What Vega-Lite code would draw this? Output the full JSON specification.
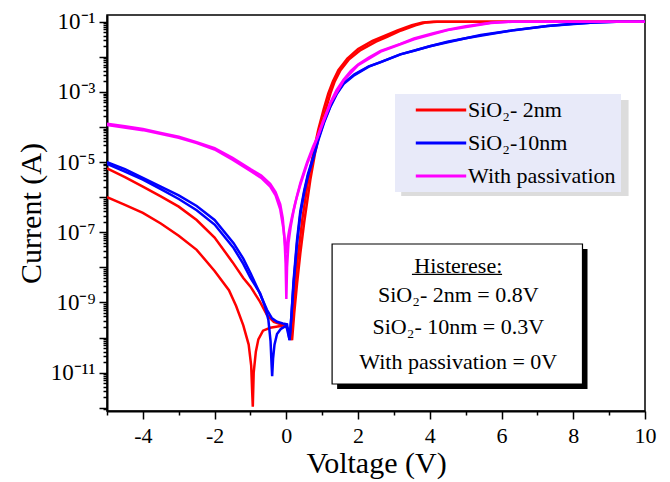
{
  "$schema": "https://vega.github.io/schema/vega-lite/v6.json",
  "width": 538,
  "height": 396,
  "autosize": {"type": "none"},
  "padding": {"left": 107, "top": 15, "right": 25, "bottom": 71},
  "background": "white",
  "config": {"view": {"stroke": "black", "strokeWidth": 1.5}, "text": {"font": "Liberation Serif"}},
  "datasets": {
    "curves": [
      {"s": "SiO₂- 2nm", "b": "r1", "v": -5, "i": 1.0e-6},
      {"s": "SiO₂- 2nm", "b": "r1", "v": -4.5, "i": 6.03e-7},
      {"s": "SiO₂- 2nm", "b": "r1", "v": -4, "i": 3.55e-7},
      {"s": "SiO₂- 2nm", "b": "r1", "v": -3.5, "i": 1.78e-7},
      {"s": "SiO₂- 2nm", "b": "r1", "v": -3, "i": 7.94e-8},
      {"s": "SiO₂- 2nm", "b": "r1", "v": -2.5, "i": 3.16e-8},
      {"s": "SiO₂- 2nm", "b": "r1", "v": -2, "i": 7.94e-9},
      {"s": "SiO₂- 2nm", "b": "r1", "v": -1.6, "i": 2.24e-9},
      {"s": "SiO₂- 2nm", "b": "r1", "v": -1.4, "i": 7.94e-10},
      {"s": "SiO₂- 2nm", "b": "r1", "v": -1.2, "i": 2.24e-10},
      {"s": "SiO₂- 2nm", "b": "r1", "v": -1.05, "i": 6.31e-11},
      {"s": "SiO₂- 2nm", "b": "r1", "v": -0.98, "i": 1.58e-11},
      {"s": "SiO₂- 2nm", "b": "r1", "v": -0.95, "i": 2.51e-12},
      {"s": "SiO₂- 2nm", "b": "r1", "v": -0.935, "i": 1.07e-12},
      {"s": "SiO₂- 2nm", "b": "r1", "v": -0.91, "i": 1.0e-11},
      {"s": "SiO₂- 2nm", "b": "r1", "v": -0.85, "i": 3.98e-11},
      {"s": "SiO₂- 2nm", "b": "r1", "v": -0.78, "i": 8.91e-11},
      {"s": "SiO₂- 2nm", "b": "r1", "v": -0.65, "i": 1.58e-10},
      {"s": "SiO₂- 2nm", "b": "r1", "v": -0.45, "i": 1.91e-10},
      {"s": "SiO₂- 2nm", "b": "r1", "v": -0.2, "i": 2.09e-10},
      {"s": "SiO₂- 2nm", "b": "r1", "v": -0.05, "i": 2.29e-10},
      {"s": "SiO₂- 2nm", "b": "r1", "v": 0.08, "i": 1.58e-10},
      {"s": "SiO₂- 2nm", "b": "r1", "v": 0.16, "i": 8.51e-11},
      {"s": "SiO₂- 2nm", "b": "r1", "v": 0.22, "i": 5.01e-10},
      {"s": "SiO₂- 2nm", "b": "r1", "v": 0.3, "i": 3.55e-9},
      {"s": "SiO₂- 2nm", "b": "r1", "v": 0.39, "i": 2.51e-8},
      {"s": "SiO₂- 2nm", "b": "r1", "v": 0.5, "i": 2.0e-7},
      {"s": "SiO₂- 2nm", "b": "r1", "v": 0.67, "i": 3.16e-6},
      {"s": "SiO₂- 2nm", "b": "r1", "v": 0.8, "i": 1.78e-5},
      {"s": "SiO₂- 2nm", "b": "r1", "v": 0.95, "i": 8.32e-5},
      {"s": "SiO₂- 2nm", "b": "r1", "v": 1.1, "i": 3.16e-4},
      {"s": "SiO₂- 2nm", "b": "r1", "v": 1.23, "i": 9.12e-4},
      {"s": "SiO₂- 2nm", "b": "r1", "v": 1.35, "i": 2.0e-3},
      {"s": "SiO₂- 2nm", "b": "r1", "v": 1.51, "i": 4.17e-3},
      {"s": "SiO₂- 2nm", "b": "r1", "v": 1.75, "i": 8.51e-3},
      {"s": "SiO₂- 2nm", "b": "r1", "v": 2.07, "i": 1.55e-2},
      {"s": "SiO₂- 2nm", "b": "r1", "v": 2.5, "i": 2.69e-2},
      {"s": "SiO₂- 2nm", "b": "r1", "v": 2.81, "i": 3.72e-2},
      {"s": "SiO₂- 2nm", "b": "r1", "v": 3.2, "i": 5.62e-2},
      {"s": "SiO₂- 2nm", "b": "r1", "v": 3.6, "i": 7.94e-2},
      {"s": "SiO₂- 2nm", "b": "r1", "v": 3.9, "i": 9.55e-2},
      {"s": "SiO₂- 2nm", "b": "r1", "v": 4.2, "i": 0.1},
      {"s": "SiO₂- 2nm", "b": "r1", "v": 10, "i": 0.1},

      {"s": "SiO₂- 2nm", "b": "r2", "v": -5, "i": 6.61e-6},
      {"s": "SiO₂- 2nm", "b": "r2", "v": -4.5, "i": 3.72e-6},
      {"s": "SiO₂- 2nm", "b": "r2", "v": -4, "i": 2.0e-6},
      {"s": "SiO₂- 2nm", "b": "r2", "v": -3.5, "i": 1.05e-6},
      {"s": "SiO₂- 2nm", "b": "r2", "v": -3, "i": 5.37e-7},
      {"s": "SiO₂- 2nm", "b": "r2", "v": -2.5, "i": 2.24e-7},
      {"s": "SiO₂- 2nm", "b": "r2", "v": -2, "i": 7.08e-8},
      {"s": "SiO₂- 2nm", "b": "r2", "v": -1.5, "i": 1.41e-8},
      {"s": "SiO₂- 2nm", "b": "r2", "v": -1.2, "i": 5.01e-9},
      {"s": "SiO₂- 2nm", "b": "r2", "v": -1.0, "i": 2.82e-9},
      {"s": "SiO₂- 2nm", "b": "r2", "v": -0.75, "i": 1.12e-9},
      {"s": "SiO₂- 2nm", "b": "r2", "v": -0.54, "i": 4.37e-10},
      {"s": "SiO₂- 2nm", "b": "r2", "v": -0.35, "i": 2.82e-10},
      {"s": "SiO₂- 2nm", "b": "r2", "v": -0.15, "i": 2.40e-10},
      {"s": "SiO₂- 2nm", "b": "r2", "v": 0.0, "i": 2.19e-10},
      {"s": "SiO₂- 2nm", "b": "r2", "v": 0.08, "i": 1.41e-10},
      {"s": "SiO₂- 2nm", "b": "r2", "v": 0.13, "i": 8.91e-11},
      {"s": "SiO₂- 2nm", "b": "r2", "v": 0.2, "i": 1.0e-9},
      {"s": "SiO₂- 2nm", "b": "r2", "v": 0.3, "i": 1.26e-8},
      {"s": "SiO₂- 2nm", "b": "r2", "v": 0.45, "i": 2.51e-7},
      {"s": "SiO₂- 2nm", "b": "r2", "v": 0.61, "i": 3.16e-6},
      {"s": "SiO₂- 2nm", "b": "r2", "v": 0.75, "i": 1.78e-5},
      {"s": "SiO₂- 2nm", "b": "r2", "v": 0.89, "i": 8.32e-5},
      {"s": "SiO₂- 2nm", "b": "r2", "v": 1.04, "i": 3.16e-4},
      {"s": "SiO₂- 2nm", "b": "r2", "v": 1.17, "i": 9.12e-4},
      {"s": "SiO₂- 2nm", "b": "r2", "v": 1.3, "i": 2.0e-3},
      {"s": "SiO₂- 2nm", "b": "r2", "v": 1.45, "i": 4.17e-3},
      {"s": "SiO₂- 2nm", "b": "r2", "v": 1.7, "i": 8.91e-3},
      {"s": "SiO₂- 2nm", "b": "r2", "v": 2.0, "i": 1.66e-2},
      {"s": "SiO₂- 2nm", "b": "r2", "v": 2.4, "i": 2.82e-2},
      {"s": "SiO₂- 2nm", "b": "r2", "v": 2.75, "i": 3.98e-2},
      {"s": "SiO₂- 2nm", "b": "r2", "v": 3.1, "i": 5.62e-2},
      {"s": "SiO₂- 2nm", "b": "r2", "v": 3.5, "i": 7.94e-2},
      {"s": "SiO₂- 2nm", "b": "r2", "v": 3.8, "i": 9.55e-2},
      {"s": "SiO₂- 2nm", "b": "r2", "v": 4.1, "i": 0.1},
      {"s": "SiO₂- 2nm", "b": "r2", "v": 10, "i": 0.1},

      {"s": "SiO₂-10nm", "b": "b1", "v": -5, "i": 1.0e-5},
      {"s": "SiO₂-10nm", "b": "b1", "v": -4.5, "i": 6.31e-6},
      {"s": "SiO₂-10nm", "b": "b1", "v": -4, "i": 3.55e-6},
      {"s": "SiO₂-10nm", "b": "b1", "v": -3.5, "i": 2.0e-6},
      {"s": "SiO₂-10nm", "b": "b1", "v": -3, "i": 1.12e-6},
      {"s": "SiO₂-10nm", "b": "b1", "v": -2.5, "i": 5.62e-7},
      {"s": "SiO₂-10nm", "b": "b1", "v": -2, "i": 2.24e-7},
      {"s": "SiO₂-10nm", "b": "b1", "v": -1.47, "i": 4.90e-8},
      {"s": "SiO₂-10nm", "b": "b1", "v": -1.2, "i": 1.78e-8},
      {"s": "SiO₂-10nm", "b": "b1", "v": -1.0, "i": 6.92e-9},
      {"s": "SiO₂-10nm", "b": "b1", "v": -0.8, "i": 2.51e-9},
      {"s": "SiO₂-10nm", "b": "b1", "v": -0.54, "i": 6.17e-10},
      {"s": "SiO₂-10nm", "b": "b1", "v": -0.4, "i": 3.55e-10},
      {"s": "SiO₂-10nm", "b": "b1", "v": -0.26, "i": 2.82e-10},
      {"s": "SiO₂-10nm", "b": "b1", "v": -0.1, "i": 2.51e-10},
      {"s": "SiO₂-10nm", "b": "b1", "v": 0.02, "i": 2.40e-10},
      {"s": "SiO₂-10nm", "b": "b1", "v": 0.09, "i": 8.51e-11},
      {"s": "SiO₂-10nm", "b": "b1", "v": 0.14, "i": 3.98e-10},
      {"s": "SiO₂-10nm", "b": "b1", "v": 0.2, "i": 3.98e-9},
      {"s": "SiO₂-10nm", "b": "b1", "v": 0.3, "i": 6.31e-8},
      {"s": "SiO₂-10nm", "b": "b1", "v": 0.39, "i": 3.98e-7},
      {"s": "SiO₂-10nm", "b": "b1", "v": 0.5, "i": 1.58e-6},
      {"s": "SiO₂-10nm", "b": "b1", "v": 0.6, "i": 4.47e-6},
      {"s": "SiO₂-10nm", "b": "b1", "v": 0.75, "i": 1.41e-5},
      {"s": "SiO₂-10nm", "b": "b1", "v": 0.9, "i": 5.01e-5},
      {"s": "SiO₂-10nm", "b": "b1", "v": 1.05, "i": 1.41e-4},
      {"s": "SiO₂-10nm", "b": "b1", "v": 1.23, "i": 3.98e-4},
      {"s": "SiO₂-10nm", "b": "b1", "v": 1.4, "i": 8.91e-4},
      {"s": "SiO₂-10nm", "b": "b1", "v": 1.6, "i": 1.78e-3},
      {"s": "SiO₂-10nm", "b": "b1", "v": 1.9, "i": 3.16e-3},
      {"s": "SiO₂-10nm", "b": "b1", "v": 2.3, "i": 5.37e-3},
      {"s": "SiO₂-10nm", "b": "b1", "v": 2.63, "i": 7.08e-3},
      {"s": "SiO₂-10nm", "b": "b1", "v": 3.18, "i": 1.17e-2},
      {"s": "SiO₂-10nm", "b": "b1", "v": 3.56, "i": 1.48e-2},
      {"s": "SiO₂-10nm", "b": "b1", "v": 4.0, "i": 2.0e-2},
      {"s": "SiO₂-10nm", "b": "b1", "v": 4.49, "i": 2.69e-2},
      {"s": "SiO₂-10nm", "b": "b1", "v": 5.0, "i": 3.39e-2},
      {"s": "SiO₂-10nm", "b": "b1", "v": 5.42, "i": 4.17e-2},
      {"s": "SiO₂-10nm", "b": "b1", "v": 6.35, "i": 5.75e-2},
      {"s": "SiO₂-10nm", "b": "b1", "v": 7.28, "i": 7.59e-2},
      {"s": "SiO₂-10nm", "b": "b1", "v": 8.0, "i": 8.71e-2},
      {"s": "SiO₂-10nm", "b": "b1", "v": 8.58, "i": 9.55e-2},
      {"s": "SiO₂-10nm", "b": "b1", "v": 9.2, "i": 0.1},
      {"s": "SiO₂-10nm", "b": "b1", "v": 10, "i": 0.1},

      {"s": "SiO₂-10nm", "b": "b2", "v": -5, "i": 8.91e-6},
      {"s": "SiO₂-10nm", "b": "b2", "v": -4.5, "i": 5.37e-6},
      {"s": "SiO₂-10nm", "b": "b2", "v": -4, "i": 3.16e-6},
      {"s": "SiO₂-10nm", "b": "b2", "v": -3.5, "i": 1.70e-6},
      {"s": "SiO₂-10nm", "b": "b2", "v": -3, "i": 8.91e-7},
      {"s": "SiO₂-10nm", "b": "b2", "v": -2.5, "i": 4.27e-7},
      {"s": "SiO₂-10nm", "b": "b2", "v": -2, "i": 1.66e-7},
      {"s": "SiO₂-10nm", "b": "b2", "v": -1.47, "i": 3.55e-8},
      {"s": "SiO₂-10nm", "b": "b2", "v": -1.2, "i": 1.26e-8},
      {"s": "SiO₂-10nm", "b": "b2", "v": -1.0, "i": 5.01e-9},
      {"s": "SiO₂-10nm", "b": "b2", "v": -0.73, "i": 1.82e-9},
      {"s": "SiO₂-10nm", "b": "b2", "v": -0.6, "i": 7.94e-10},
      {"s": "SiO₂-10nm", "b": "b2", "v": -0.5, "i": 3.16e-10},
      {"s": "SiO₂-10nm", "b": "b2", "v": -0.44, "i": 7.94e-11},
      {"s": "SiO₂-10nm", "b": "b2", "v": -0.41, "i": 1.58e-11},
      {"s": "SiO₂-10nm", "b": "b2", "v": -0.395, "i": 7.94e-12},
      {"s": "SiO₂-10nm", "b": "b2", "v": -0.37, "i": 2.51e-11},
      {"s": "SiO₂-10nm", "b": "b2", "v": -0.33, "i": 6.31e-11},
      {"s": "SiO₂-10nm", "b": "b2", "v": -0.26, "i": 1.26e-10},
      {"s": "SiO₂-10nm", "b": "b2", "v": -0.15, "i": 1.78e-10},
      {"s": "SiO₂-10nm", "b": "b2", "v": 0.0, "i": 2.19e-10},
      {"s": "SiO₂-10nm", "b": "b2", "v": 0.09, "i": 8.51e-11},
      {"s": "SiO₂-10nm", "b": "b2", "v": 0.14, "i": 3.98e-10},
      {"s": "SiO₂-10nm", "b": "b2", "v": 0.2, "i": 3.16e-9},
      {"s": "SiO₂-10nm", "b": "b2", "v": 0.3, "i": 5.01e-8},
      {"s": "SiO₂-10nm", "b": "b2", "v": 0.39, "i": 3.16e-7},
      {"s": "SiO₂-10nm", "b": "b2", "v": 0.5, "i": 1.41e-6},
      {"s": "SiO₂-10nm", "b": "b2", "v": 0.6, "i": 3.98e-6},
      {"s": "SiO₂-10nm", "b": "b2", "v": 0.75, "i": 1.26e-5},
      {"s": "SiO₂-10nm", "b": "b2", "v": 0.9, "i": 4.47e-5},
      {"s": "SiO₂-10nm", "b": "b2", "v": 1.05, "i": 1.32e-4},
      {"s": "SiO₂-10nm", "b": "b2", "v": 1.23, "i": 3.80e-4},
      {"s": "SiO₂-10nm", "b": "b2", "v": 1.4, "i": 8.51e-4},
      {"s": "SiO₂-10nm", "b": "b2", "v": 1.6, "i": 1.70e-3},
      {"s": "SiO₂-10nm", "b": "b2", "v": 1.9, "i": 3.02e-3},
      {"s": "SiO₂-10nm", "b": "b2", "v": 2.3, "i": 5.25e-3},
      {"s": "SiO₂-10nm", "b": "b2", "v": 2.63, "i": 7.08e-3},
      {"s": "SiO₂-10nm", "b": "b2", "v": 3.18, "i": 1.17e-2},
      {"s": "SiO₂-10nm", "b": "b2", "v": 4.0, "i": 2.0e-2},
      {"s": "SiO₂-10nm", "b": "b2", "v": 5.0, "i": 3.39e-2},
      {"s": "SiO₂-10nm", "b": "b2", "v": 6.35, "i": 5.75e-2},
      {"s": "SiO₂-10nm", "b": "b2", "v": 7.28, "i": 7.59e-2},
      {"s": "SiO₂-10nm", "b": "b2", "v": 8.58, "i": 9.55e-2},
      {"s": "SiO₂-10nm", "b": "b2", "v": 9.2, "i": 0.1},
      {"s": "SiO₂-10nm", "b": "b2", "v": 10, "i": 0.1},

      {"s": "With passivation", "b": "m1", "v": -5, "i": 1.23e-4},
      {"s": "With passivation", "b": "m1", "v": -4.5, "i": 1.05e-4},
      {"s": "With passivation", "b": "m1", "v": -4, "i": 8.71e-5},
      {"s": "With passivation", "b": "m1", "v": -3.5, "i": 6.76e-5},
      {"s": "With passivation", "b": "m1", "v": -3, "i": 5.25e-5},
      {"s": "With passivation", "b": "m1", "v": -2.5, "i": 3.72e-5},
      {"s": "With passivation", "b": "m1", "v": -2, "i": 2.51e-5},
      {"s": "With passivation", "b": "m1", "v": -1.5, "i": 1.32e-5},
      {"s": "With passivation", "b": "m1", "v": -1.0, "i": 6.31e-6},
      {"s": "With passivation", "b": "m1", "v": -0.7, "i": 4.17e-6},
      {"s": "With passivation", "b": "m1", "v": -0.45, "i": 2.40e-6},
      {"s": "With passivation", "b": "m1", "v": -0.3, "i": 1.41e-6},
      {"s": "With passivation", "b": "m1", "v": -0.17, "i": 6.31e-7},
      {"s": "With passivation", "b": "m1", "v": -0.1, "i": 2.51e-7},
      {"s": "With passivation", "b": "m1", "v": -0.05, "i": 6.31e-8},
      {"s": "With passivation", "b": "m1", "v": -0.02, "i": 1.26e-8},
      {"s": "With passivation", "b": "m1", "v": 0.0, "i": 1.26e-9},
      {"s": "With passivation", "b": "m1", "v": 0.02, "i": 1.0e-8},
      {"s": "With passivation", "b": "m1", "v": 0.06, "i": 5.01e-8},
      {"s": "With passivation", "b": "m1", "v": 0.12, "i": 1.41e-7},
      {"s": "With passivation", "b": "m1", "v": 0.2, "i": 3.98e-7},
      {"s": "With passivation", "b": "m1", "v": 0.3, "i": 1.12e-6},
      {"s": "With passivation", "b": "m1", "v": 0.39, "i": 2.51e-6},
      {"s": "With passivation", "b": "m1", "v": 0.5, "i": 5.62e-6},
      {"s": "With passivation", "b": "m1", "v": 0.58, "i": 1.0e-5},
      {"s": "With passivation", "b": "m1", "v": 0.75, "i": 2.82e-5},
      {"s": "With passivation", "b": "m1", "v": 0.86, "i": 5.01e-5},
      {"s": "With passivation", "b": "m1", "v": 1.04, "i": 1.58e-4},
      {"s": "With passivation", "b": "m1", "v": 1.23, "i": 5.01e-4},
      {"s": "With passivation", "b": "m1", "v": 1.4, "i": 1.12e-3},
      {"s": "With passivation", "b": "m1", "v": 1.6, "i": 2.24e-3},
      {"s": "With passivation", "b": "m1", "v": 1.8, "i": 3.98e-3},
      {"s": "With passivation", "b": "m1", "v": 2.0, "i": 6.03e-3},
      {"s": "With passivation", "b": "m1", "v": 2.3, "i": 9.55e-3},
      {"s": "With passivation", "b": "m1", "v": 2.63, "i": 1.48e-2},
      {"s": "With passivation", "b": "m1", "v": 3.18, "i": 2.34e-2},
      {"s": "With passivation", "b": "m1", "v": 3.56, "i": 3.31e-2},
      {"s": "With passivation", "b": "m1", "v": 4.1, "i": 4.68e-2},
      {"s": "With passivation", "b": "m1", "v": 4.5, "i": 5.89e-2},
      {"s": "With passivation", "b": "m1", "v": 5.0, "i": 7.41e-2},
      {"s": "With passivation", "b": "m1", "v": 5.4, "i": 8.51e-2},
      {"s": "With passivation", "b": "m1", "v": 5.7, "i": 9.33e-2},
      {"s": "With passivation", "b": "m1", "v": 6.2, "i": 0.1},
      {"s": "With passivation", "b": "m1", "v": 10, "i": 0.1},

      {"s": "With passivation", "b": "m2", "v": -5, "i": 1.15e-4},
      {"s": "With passivation", "b": "m2", "v": -4, "i": 8.13e-5},
      {"s": "With passivation", "b": "m2", "v": -3, "i": 4.90e-5},
      {"s": "With passivation", "b": "m2", "v": -2.5, "i": 3.47e-5},
      {"s": "With passivation", "b": "m2", "v": -2, "i": 2.29e-5},
      {"s": "With passivation", "b": "m2", "v": -1.5, "i": 1.17e-5},
      {"s": "With passivation", "b": "m2", "v": -1.0, "i": 5.62e-6},
      {"s": "With passivation", "b": "m2", "v": -0.7, "i": 3.55e-6},
      {"s": "With passivation", "b": "m2", "v": -0.45, "i": 2.0e-6},
      {"s": "With passivation", "b": "m2", "v": -0.3, "i": 1.12e-6},
      {"s": "With passivation", "b": "m2", "v": -0.17, "i": 4.47e-7},
      {"s": "With passivation", "b": "m2", "v": -0.08, "i": 1.26e-7},
      {"s": "With passivation", "b": "m2", "v": -0.03, "i": 3.98e-8},
      {"s": "With passivation", "b": "m2", "v": 0.0, "i": 2.51e-8},
      {"s": "With passivation", "b": "m2", "v": 0.03, "i": 5.62e-8},
      {"s": "With passivation", "b": "m2", "v": 0.08, "i": 1.12e-7},
      {"s": "With passivation", "b": "m2", "v": 0.15, "i": 2.51e-7},
      {"s": "With passivation", "b": "m2", "v": 0.25, "i": 7.08e-7},
      {"s": "With passivation", "b": "m2", "v": 0.39, "i": 2.24e-6},
      {"s": "With passivation", "b": "m2", "v": 0.58, "i": 8.91e-6},
      {"s": "With passivation", "b": "m2", "v": 0.86, "i": 4.68e-5},
      {"s": "With passivation", "b": "m2", "v": 1.04, "i": 1.48e-4},
      {"s": "With passivation", "b": "m2", "v": 1.23, "i": 4.68e-4},
      {"s": "With passivation", "b": "m2", "v": 1.6, "i": 2.14e-3},
      {"s": "With passivation", "b": "m2", "v": 2.0, "i": 5.75e-3},
      {"s": "With passivation", "b": "m2", "v": 2.63, "i": 1.41e-2},
      {"s": "With passivation", "b": "m2", "v": 3.56, "i": 3.16e-2},
      {"s": "With passivation", "b": "m2", "v": 4.5, "i": 5.75e-2},
      {"s": "With passivation", "b": "m2", "v": 5.7, "i": 9.12e-2},
      {"s": "With passivation", "b": "m2", "v": 6.3, "i": 0.1},
      {"s": "With passivation", "b": "m2", "v": 10, "i": 0.1}
    ],
    "legendShadow": [{"v": 3.203, "v2": 9.542, "i": 5.875e-4, "i2": 1.081e-6}],
    "boxShadow": [{"v": 1.416, "v2": 8.397, "i": 3.342e-8, "i2": 3.436e-12}],
    "box": [{"v": 1.276, "v2": 8.257, "i": 4.645e-8, "i2": 4.764e-12}],
    "notes": [
      {"v": 4.795, "i": 1.096e-8, "t": "Histerese:"},
      {"v": 4.795, "i": 1.637e-9, "t": "SiO₂- 2nm = 0.8V"},
      {"v": 4.795, "i": 2.04e-10, "t": "SiO₂- 10nm = 0.3V"},
      {"v": 4.795, "i": 2.056e-11, "t": "With passivation = 0V"}
    ],
    "underline": [{"v": 3.502, "v2": 6.015, "i": 6.353e-9}]
  },
  "encoding": {
    "x": {
      "field": "v", "type": "quantitative",
      "scale": {"domain": [-5, 10], "nice": false, "zero": false},
      "axis": {
        "values": [-5, -4, -3, -2, -1, 0, 1, 2, 3, 4, 5, 6, 7, 8, 9, 10],
        "labelExpr": "datum.value % 2 == 0 ? '' + datum.value : ''",
        "tickSize": {"condition": {"test": "datum.value % 2 == 0", "value": 8}, "value": 4},
        "tickColor": "black", "tickWidth": 1.5,
        "domainColor": "black", "domainWidth": 2,
        "grid": false, "labelFlush": false, "labelOverlap": false,
        "labelFont": "Liberation Serif", "labelFontSize": 22, "labelColor": "black", "labelPadding": 6,
        "title": "Voltage (V)", "titleFont": "Liberation Serif", "titleFontSize": 30,
        "titleFontWeight": "normal", "titleColor": "black", "titlePadding": 2
      }
    },
    "y": {
      "field": "i", "type": "quantitative",
      "scale": {"type": "log", "domain": [8.1e-13, 0.1552], "nice": false},
      "axis": {
        "values": [9e-13, 1e-12, 2e-12, 3e-12, 4e-12, 5e-12, 6e-12, 7e-12, 8e-12, 9e-12,
                   1e-11, 2e-11, 3e-11, 4e-11, 5e-11, 6e-11, 7e-11, 8e-11, 9e-11,
                   1e-10, 2e-10, 3e-10, 4e-10, 5e-10, 6e-10, 7e-10, 8e-10, 9e-10,
                   1e-9, 2e-9, 3e-9, 4e-9, 5e-9, 6e-9, 7e-9, 8e-9, 9e-9,
                   1e-8, 2e-8, 3e-8, 4e-8, 5e-8, 6e-8, 7e-8, 8e-8, 9e-8,
                   1e-7, 2e-7, 3e-7, 4e-7, 5e-7, 6e-7, 7e-7, 8e-7, 9e-7,
                   1e-6, 2e-6, 3e-6, 4e-6, 5e-6, 6e-6, 7e-6, 8e-6, 9e-6,
                   1e-5, 2e-5, 3e-5, 4e-5, 5e-5, 6e-5, 7e-5, 8e-5, 9e-5,
                   1e-4, 2e-4, 3e-4, 4e-4, 5e-4, 6e-4, 7e-4, 8e-4, 9e-4,
                   1e-3, 2e-3, 3e-3, 4e-3, 5e-3, 6e-3, 7e-3, 8e-3, 9e-3,
                   1e-2, 2e-2, 3e-2, 4e-2, 5e-2, 6e-2, 7e-2, 8e-2, 9e-2, 1e-1],
        "labelExpr": "abs(log(datum.value)/LN10 - round(log(datum.value)/LN10)) > 0.01 ? '' : round(log(datum.value)/LN10) == -1 ? '10⁻¹' : round(log(datum.value)/LN10) == -3 ? '10⁻³' : round(log(datum.value)/LN10) == -5 ? '10⁻⁵' : round(log(datum.value)/LN10) == -7 ? '10⁻⁷' : round(log(datum.value)/LN10) == -9 ? '10⁻⁹' : round(log(datum.value)/LN10) == -11 ? '10⁻¹¹' : ''",
        "tickSize": {"condition": {"test": "abs(log(datum.value)/LN10 - round(log(datum.value)/LN10)) < 0.01", "value": 8}, "value": 4},
        "tickColor": "black", "tickWidth": 1.5,
        "domainColor": "black", "domainWidth": 2,
        "grid": false, "labelOverlap": false, "labelFlush": false,
        "labelFont": "Liberation Serif", "labelFontSize": 23, "labelColor": "black", "labelPadding": 4,
        "title": "Current (A)", "titleFont": "Liberation Serif", "titleFontSize": 30,
        "titleFontWeight": "normal", "titleColor": "black", "titlePadding": 4
      }
    }
  },
  "layer": [
    {
      "data": {"name": "curves"},
      "mark": {"type": "line", "strokeWidth": 2.5, "clip": true},
      "encoding": {
        "color": {
          "field": "s", "type": "nominal",
          "scale": {"domain": ["SiO₂- 2nm", "SiO₂-10nm", "With passivation"], "range": ["#ff0000", "#0000ff", "#ff00ff"]},
          "legend": {
            "title": null, "orient": "none", "legendX": 288, "legendY": 79,
            "fillColor": "#e8eaf9", "padding": 5,
            "symbolType": "M0.6,0H6.9", "symbolSize": 256, "symbolStrokeWidth": 3,
            "labelFont": "Liberation Serif", "labelFontSize": 22, "labelColor": "black",
            "labelOffset": 46, "labelLimit": 300, "rowPadding": 11
          }
        },
        "detail": {"field": "b", "type": "nominal"}
      }
    },
    {
      "data": {"name": "legendShadow"},
      "mark": {"type": "rect", "fill": "#dcdcdc"},
      "encoding": {"x2": {"field": "v2"}, "y2": {"field": "i2"}}
    },
    {
      "data": {"name": "boxShadow"},
      "mark": {"type": "rect", "fill": "black"},
      "encoding": {"x2": {"field": "v2"}, "y2": {"field": "i2"}}
    },
    {
      "data": {"name": "box"},
      "mark": {"type": "rect", "fill": "white", "stroke": "black", "strokeWidth": 1.2},
      "encoding": {"x2": {"field": "v2"}, "y2": {"field": "i2"}}
    },
    {
      "data": {"name": "notes"},
      "mark": {"type": "text", "font": "Liberation Serif", "fontSize": 22, "align": "center", "baseline": "middle", "color": "black"},
      "encoding": {"text": {"field": "t"}}
    },
    {
      "data": {"name": "underline"},
      "mark": {"type": "rule", "color": "black", "strokeWidth": 1.2},
      "encoding": {"x2": {"field": "v2"}}
    }
  ]
}
